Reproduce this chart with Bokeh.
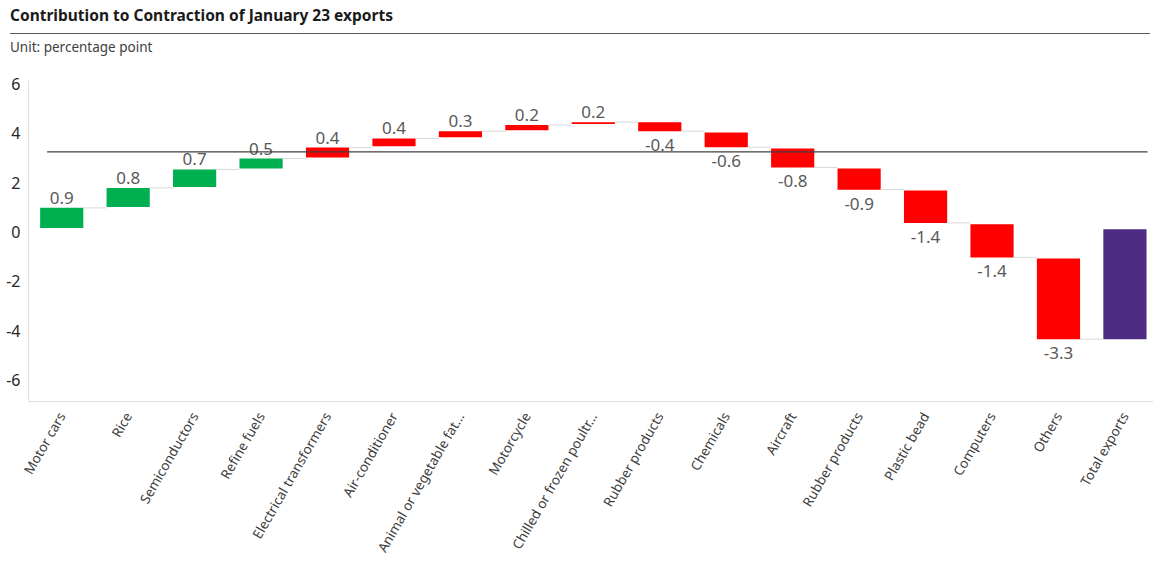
import math
from bokeh.plotting import figure
from bokeh.models import Range1d, FixedTicker, ColumnDataSource, Div
from bokeh.layouts import column
from bokeh.core.properties import value
from bokeh.embed import file_html
from bokeh.resources import INLINE

# ---------------- data ----------------
title_text = "Contribution to Contraction of January 23 exports"
unit_text = "Unit: percentage point"

categories = ["Motor cars", "Rice", "Semiconductors", "Refine fuels",
              "Electrical transformers", "Air-conditioner",
              "Animal or vegetable fat...", "Motorcycle",
              "Chilled or frozen poultr...", "Rubber products", "Chemicals",
              "Aircraft", "Rubber products", "Plastic bead", "Computers",
              "Others", "Total exports"]
labels = ["0.9", "0.8", "0.7", "0.5", "0.4", "0.4", "0.3", "0.2", "0.2",
          "-0.4", "-0.6", "-0.8", "-0.9", "-1.4", "-1.4", "-3.3", ""]
# bar start / end levels (percentage point)
bar_start = [0.16, 1.02, 1.83, 2.58, 3.02, 3.48, 3.85, 4.13, 4.38,
             4.46, 4.04, 3.39, 2.58, 1.68, 0.31, -1.08, 0.11]
bar_end = [0.98, 1.79, 2.54, 2.98, 3.43, 3.80, 4.09, 4.34, 4.46,
           4.09, 3.44, 2.62, 1.72, 0.37, -1.03, -4.35, -4.35]
bar_kind = ["up"] * 4 + ["down"] * 12 + ["total"]
reference_level = 3.25
y_ticks = [-6, -4, -2, 0, 2, 4, 6]
y_tick_labels = ["-6", "-4", "-2", "0", "2", "4", "6"]

kind_colors = {"up": "#00B050", "down": "#FF0000", "total": "#4F2C83"}
FONT = "Noto Sans"
W = 1153
HEADER_H = 62
MAIN_H = 500
BAR_W = 0.65

n = len(categories)
xs = list(range(n))

# ---------------- header ----------------
header_html = (
    f'<div style="position:relative;width:{W}px;height:{HEADER_H}px;'
    f'font-family:\'{FONT}\';">'
    f'<div style="position:absolute;left:10px;top:5px;font-size:15.5px;'
    f'font-weight:bold;color:#1a1a1a;line-height:20px;white-space:nowrap;">'
    f'{title_text}</div>'
    f'<div style="position:absolute;left:10px;top:33px;width:1140px;height:0;'
    f'border-top:1.5px solid #595959;"></div>'
    f'<div style="position:absolute;left:10px;top:38px;font-size:13.5px;'
    f'color:#404040;line-height:18px;white-space:nowrap;">{unit_text}</div>'
    f'</div>'
)
hdr = Div(text=header_html, width=W, height=HEADER_H, margin=0)

# ---------------- main chart ----------------
p = figure(width=W, height=MAIN_H, x_range=Range1d(-0.5, 16.43),
           y_range=Range1d(-6.88, 6.15), output_backend="svg",
           toolbar_location=None, min_border_left=28, min_border_right=0,
           min_border_top=18, min_border_bottom=160, margin=0)
p.grid.visible = False
p.outline_line_color = None

src = ColumnDataSource(dict(
    x=xs, start=bar_start, end=bar_end,
    color=[kind_colors[k] for k in bar_kind]))
p.vbar(x="x", bottom="start", top="end", width=BAR_W, fill_color="color",
       line_color=None, source=src)

# connectors
p.segment(x0=[x + BAR_W / 2 for x in xs[:-1]], x1=[x - BAR_W / 2 for x in xs[1:]],
          y0=bar_end[:-1], y1=bar_end[:-1], line_color="#d9d9d9", line_width=1)

# data labels
up_idx = [i for i in range(n) if labels[i] and not labels[i].startswith("-")]
dn_idx = [i for i in range(n) if labels[i].startswith("-")]
p.text(x=[xs[i] for i in up_idx],
       y=[max(bar_start[i], bar_end[i]) for i in up_idx],
       text=[labels[i] for i in up_idx], text_font=value(FONT),
       text_font_size="17px", text_color="#595959", text_align="center",
       text_baseline="bottom", y_offset=-4)
p.text(x=[xs[i] for i in dn_idx],
       y=[min(bar_start[i], bar_end[i]) for i in dn_idx],
       text=[labels[i] for i in dn_idx], text_font=value(FONT),
       text_font_size="17px", text_color="#595959", text_align="center",
       text_baseline="top", y_offset=8)

# reference line
p.segment(x0=[-0.22], x1=[16.34], y0=[reference_level], y1=[reference_level],
          line_color="#404040", line_width=1.3)

# ---------------- axes ----------------
ya = p.yaxis[0]
ya.ticker = FixedTicker(ticks=y_ticks)
ya.major_label_overrides = dict(zip(y_ticks, y_tick_labels))
ya.axis_line_color = "#e0e0e0"
ya.major_tick_line_color = None
ya.minor_tick_line_color = None
ya.major_tick_out = 0
ya.major_tick_in = 0
ya.minor_tick_out = 0
ya.major_label_standoff = 8
ya.major_label_text_font = FONT
ya.major_label_text_font_size = "16px"
ya.major_label_text_color = "#262626"

xa = p.xaxis[0]
xa.ticker = FixedTicker(ticks=xs)
xa.major_label_overrides = {i: c for i, c in enumerate(categories)}
xa.major_label_orientation = math.pi / 3
xa.axis_line_color = "#e0e0e0"
xa.major_tick_line_color = None
xa.minor_tick_line_color = None
xa.major_tick_out = 0
xa.major_tick_in = 0
xa.minor_tick_out = 0
xa.major_label_standoff = 12
xa.major_label_text_font = FONT
xa.major_label_text_font_size = "13.5px"
xa.major_label_text_color = "#404040"

layout = column(hdr, p, spacing=0, margin=0)
open("out.html", "w").write(file_html(layout, INLINE))
